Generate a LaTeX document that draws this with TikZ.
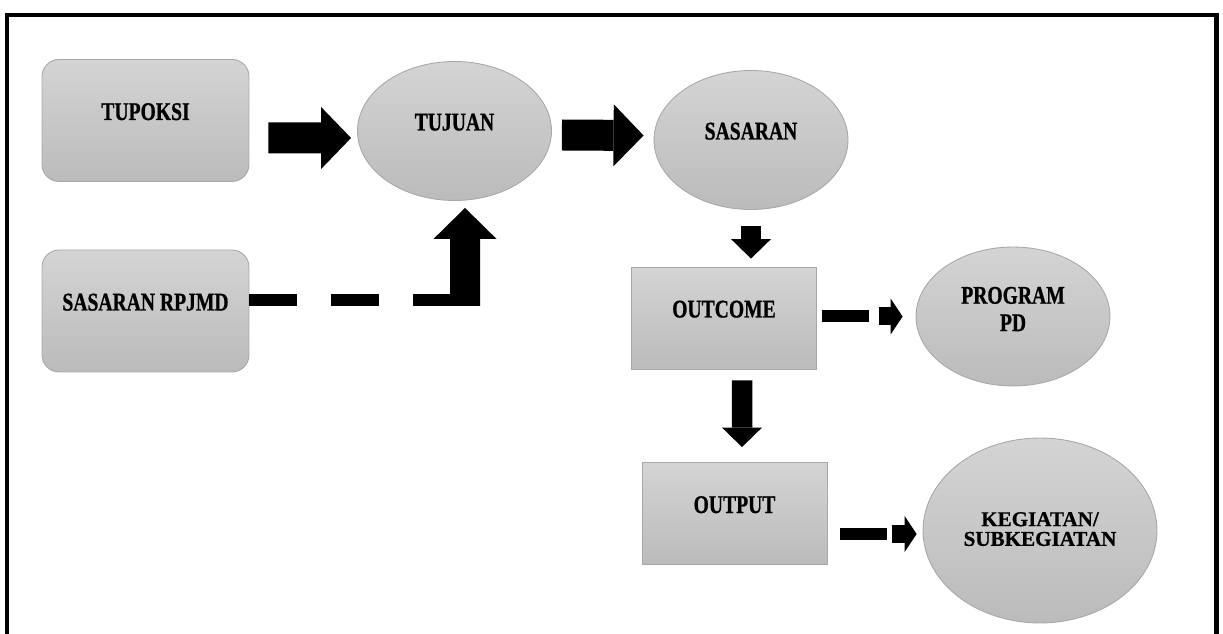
\documentclass[tikz,border=0pt]{standalone}
\usepackage{fontspec}
\newfontfamily\diagfont[FakeStretch=0.77, FakeBold=0.8]{Liberation Serif}
\newfontfamily\widefont[FakeBold=0.8]{Liberation Serif}
\usepackage{tikz}
\usetikzlibrary{shapes.geometric}
\usetikzlibrary{positioning}
\usetikzlibrary{arrows.meta}
\definecolor{shadetop}{HTML}{D4D4D4}
\definecolor{shadebot}{HTML}{BBBBBB}
\definecolor{edgegray}{HTML}{A8A8A8}
\tikzstyle{grayfill} = [draw=edgegray, line width=0.5pt, top color=shadetop,
bottom color=shadebot, inner sep=0pt,
font=\diagfont\bfseries\fontsize{14.5}{15.6}\selectfont]
\tikzstyle{rbox} = [grayfill, rectangle, rounded corners=0.34cm,
minimum width=4.14cm, minimum height=2.44cm]
\tikzstyle{sbox} = [grayfill, rectangle, minimum width=3.7cm, minimum height=2.04cm]
\tikzstyle{oval} = [grayfill, ellipse, minimum width=3.88cm, minimum height=2.78cm]
\tikzstyle{lift} = [text height=0.34cm, text depth=0.36cm]
\tikzstyle{bigflow} = [line width=0.62cm,
-{Triangle[length=0.6cm, width=1.24cm, line width=0pt]}]
\tikzstyle{downflow} = [line width=0.41cm,
-{Triangle[length=0.39cm, width=0.8cm, line width=0pt]}]
\tikzstyle{dashflow} = [line width=0.24cm]
\tikzstyle{tipflow} = [line width=0.36cm,
-{Triangle[length=0.24cm, width=0.72cm, line width=0pt]}]

\begin{document}
\begin{tikzpicture}[x=0.02cm, y=-0.02cm]
      \useasboundingbox (0,0) rectangle (1223,634);
      \draw[line width=0.09cm] (7,634) -- (7,15) -- (1216.5,15) -- (1216.5,634);
      %% Nodes
      \node [rbox, lift] (tupoksi) at (145.5,120.5) {TUPOKSI};
      \node [rbox, lift] (rpjmd) at (145.5,311) {SASARAN RPJMD};
      \node [oval, lift] (tujuan) at (454.5,131) {TUJUAN};
      \node [oval, lift] (sasaran) at (751,140) {SASARAN};
      \node [sbox, lift] (outcome) at (724,318) {OUTCOME};
      \node [sbox, lift] (output) at (734.5,513.5) {OUTPUT};
      \node [oval, align=center, text depth=0.3cm] (program) at (1013,316.5) {PROGRAM\\PD};
      \node [oval, align=center, minimum width=4.68cm, minimum height=3.7cm,
        font=\widefont\bfseries\fontsize{12}{11.2}\selectfont, text depth=0.06cm]
        (kegiatan) at (1040,530.5) {KEGIATAN/\\SUBKEGIATAN};
      \coordinate (knee) at (465,300);
      %% Flows
      \draw [bigflow] ([shift={(19,17.5)}]tupoksi.east) -- ([shift={(-6,7)}]tujuan.west);
      \draw [bigflow] ([shift={(10,4)}]tujuan.east) -- ([shift={(-10,-4.5)}]sasaran.west);
      \draw [dashflow, dash pattern=on 0.96cm off 0.68cm] ([shift={(0,-11)}]rpjmd.east) -- (knee);
      \draw [line width=0.6cm, -{Triangle[length=0.62cm, width=1.26cm, line width=0pt]}]
        ([shift={(0,6)}]knee) -- ([shift={(10.5,7)}]tujuan.south);
      \draw [downflow] ([shift={(0,16)}]sasaran.south) -- ([shift={(27,-8)}]outcome.north);
      \draw [downflow] ([shift={(18,11)}]outcome.south) -- ([shift={(7.5,-15)}]output.north);
      \draw [dashflow] ([shift={(5.5,-2)}]outcome.east) -- ++(47,0);
      \draw [tipflow] ([shift={(-37,0)}]program.west) -- ([shift={(-13,0)}]program.west);
      \draw [dashflow] ([shift={(13,20.5)}]output.east) -- ++(47,0);
      \draw [tipflow] ([shift={(-31,3.5)}]kegiatan.west) -- ([shift={(-6,3.5)}]kegiatan.west);
    \end{tikzpicture}
\end{document}
